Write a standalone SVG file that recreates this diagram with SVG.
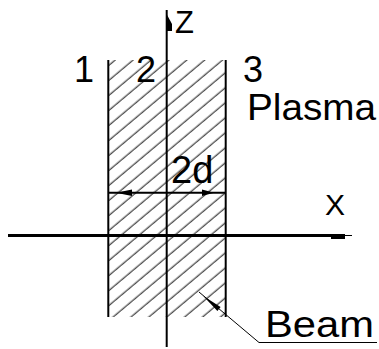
<svg xmlns="http://www.w3.org/2000/svg" width="379" height="349" viewBox="0 0 379 349">
  <style>
    .lbl { font-family: "Liberation Sans", Arial, sans-serif; fill: #000; }
    .wall { stroke: #000; stroke-width: 2; fill: none; }
    .axis { stroke: #000; fill: none; }
    .thin { stroke: #000; stroke-width: 1; fill: none; }
    .head { fill: #000; stroke: none; }
  </style>
  <defs>
    <pattern id="hatch" patternUnits="userSpaceOnUse" width="20" height="11.5" patternTransform="rotate(-40)">
      <line x1="0" y1="5" x2="20" y2="5" stroke="#111" stroke-width="1"/>
    </pattern>
  </defs>
  <rect width="379" height="349" fill="#fff"/>

  <g id="beam">
    <rect x="108.3" y="60" width="117.4" height="257" fill="url(#hatch)"/>
    <line class="wall" x1="108.3" y1="60" x2="108.3" y2="317"/>
    <line class="wall" x1="225.7" y1="60" x2="225.7" y2="317"/>
  </g>

  <g id="connectors">
    <!-- z axis -->
    <line class="axis" stroke-width="2" x1="166.7" y1="10" x2="166.7" y2="347"/>
    <polygon class="head" points="166,13 172,24 172,31 166,31"/>
    <!-- x axis -->
    <line class="axis" stroke-width="3" x1="8" y1="235.5" x2="345" y2="235.5"/>
    <line class="thin" x1="345" y1="235.5" x2="352" y2="235.5"/>
    <polygon class="head" points="331,236 345,234.5 345,239 331,239"/>
    <!-- 2d dimension -->
    <line class="axis" stroke-width="2" x1="108.3" y1="192.7" x2="225.7" y2="192.7"/>
    <polygon class="head" points="116,192.7 132,189.5 132,195.9"/>
    <polygon class="head" points="214,192.7 202,189.5 202,195.9"/>
    <!-- beam leader -->
    <polyline class="thin" points="199,292 259,342.5 377,342.5"/>
    <polygon class="head" points="203,295.7 217.4,310.9 220.6,307.1"/>
  </g>

  <g id="labels">
    <text class="lbl" x="175" y="33" font-size="31">Z</text>
    <text class="lbl" x="74" y="82" font-size="36">1</text>
    <text class="lbl" x="136" y="82" font-size="36">2</text>
    <text class="lbl" x="243" y="82" font-size="36">3</text>
    <text class="lbl" x="247" y="120" font-size="37" textLength="129" lengthAdjust="spacingAndGlyphs">Plasma</text>
    <text class="lbl" x="171" y="183" font-size="38">2d</text>
    <text class="lbl" x="325" y="215" font-size="30">X</text>
    <text class="lbl" x="265" y="337" font-size="37" textLength="109" lengthAdjust="spacingAndGlyphs">Beam</text>
  </g>
</svg>
